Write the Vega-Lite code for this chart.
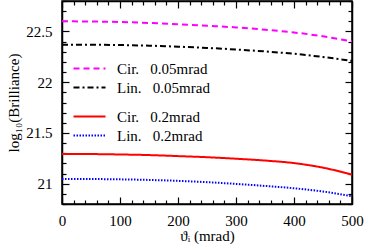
{
  "$schema": "https://vega.github.io/schema/vega-lite/v6.json",
  "width": 290,
  "height": 203,
  "autosize": {"type": "none"},
  "padding": {"left": 62, "top": 1, "right": 14, "bottom": 43},
  "config": {
    "font": "Liberation Serif",
    "view": {"stroke": "black", "strokeWidth": 1.5},
    "axis": {
      "domainColor": "black", "domainWidth": 1.5, "tickColor": "black", "tickWidth": 1.2,
      "labelFont": "Liberation Serif", "labelFontSize": 15, "labelColor": "black",
      "titleFont": "Liberation Serif", "titleFontSize": 15, "titleFontWeight": "normal", "titleColor": "black",
      "grid": false, "labelFlush": false, "labelOverlap": false
    },
    "legend": {
      "labelFont": "Liberation Serif", "labelFontSize": 15, "labelColor": "black",
      "padding": 0, "symbolStrokeWidth": 2, "symbolType": "M-4,0H4", "symbolSize": 64,
      "labelOffset": 20, "rowPadding": 3
    }
  },
  "datasets": {
    "a": [
      {"theta": 0, "val": 22.600, "s": "Cir.\u00a0\u00a0\u00a00.05mrad"},
      {"theta": 50, "val": 22.598, "s": "Cir.\u00a0\u00a0\u00a00.05mrad"},
      {"theta": 100, "val": 22.593, "s": "Cir.\u00a0\u00a0\u00a00.05mrad"},
      {"theta": 150, "val": 22.584, "s": "Cir.\u00a0\u00a0\u00a00.05mrad"},
      {"theta": 200, "val": 22.571, "s": "Cir.\u00a0\u00a0\u00a00.05mrad"},
      {"theta": 250, "val": 22.556, "s": "Cir.\u00a0\u00a0\u00a00.05mrad"},
      {"theta": 300, "val": 22.540, "s": "Cir.\u00a0\u00a0\u00a00.05mrad"},
      {"theta": 350, "val": 22.517, "s": "Cir.\u00a0\u00a0\u00a00.05mrad"},
      {"theta": 400, "val": 22.490, "s": "Cir.\u00a0\u00a0\u00a00.05mrad"},
      {"theta": 450, "val": 22.452, "s": "Cir.\u00a0\u00a0\u00a00.05mrad"},
      {"theta": 500, "val": 22.402, "s": "Cir.\u00a0\u00a0\u00a00.05mrad"},
      {"theta": 0, "val": 22.370, "s": "Lin.\u00a0\u00a0\u00a00.05mrad"},
      {"theta": 50, "val": 22.369, "s": "Lin.\u00a0\u00a0\u00a00.05mrad"},
      {"theta": 100, "val": 22.366, "s": "Lin.\u00a0\u00a0\u00a00.05mrad"},
      {"theta": 150, "val": 22.360, "s": "Lin.\u00a0\u00a0\u00a00.05mrad"},
      {"theta": 200, "val": 22.350, "s": "Lin.\u00a0\u00a0\u00a00.05mrad"},
      {"theta": 250, "val": 22.338, "s": "Lin.\u00a0\u00a0\u00a00.05mrad"},
      {"theta": 300, "val": 22.322, "s": "Lin.\u00a0\u00a0\u00a00.05mrad"},
      {"theta": 350, "val": 22.303, "s": "Lin.\u00a0\u00a0\u00a00.05mrad"},
      {"theta": 400, "val": 22.280, "s": "Lin.\u00a0\u00a0\u00a00.05mrad"},
      {"theta": 450, "val": 22.248, "s": "Lin.\u00a0\u00a0\u00a00.05mrad"},
      {"theta": 500, "val": 22.210, "s": "Lin.\u00a0\u00a0\u00a00.05mrad"}
    ],
    "b": [
      {"theta": 0, "val": 21.293, "s": "Cir.\u00a0\u00a0\u00a00.2mrad"},
      {"theta": 50, "val": 21.292, "s": "Cir.\u00a0\u00a0\u00a00.2mrad"},
      {"theta": 100, "val": 21.288, "s": "Cir.\u00a0\u00a0\u00a00.2mrad"},
      {"theta": 150, "val": 21.282, "s": "Cir.\u00a0\u00a0\u00a00.2mrad"},
      {"theta": 200, "val": 21.272, "s": "Cir.\u00a0\u00a0\u00a00.2mrad"},
      {"theta": 250, "val": 21.261, "s": "Cir.\u00a0\u00a0\u00a00.2mrad"},
      {"theta": 300, "val": 21.246, "s": "Cir.\u00a0\u00a0\u00a00.2mrad"},
      {"theta": 350, "val": 21.228, "s": "Cir.\u00a0\u00a0\u00a00.2mrad"},
      {"theta": 400, "val": 21.203, "s": "Cir.\u00a0\u00a0\u00a00.2mrad"},
      {"theta": 450, "val": 21.158, "s": "Cir.\u00a0\u00a0\u00a00.2mrad"},
      {"theta": 500, "val": 21.090, "s": "Cir.\u00a0\u00a0\u00a00.2mrad"},
      {"theta": 0, "val": 21.047, "s": "Lin.\u00a0\u00a0\u00a00.2mrad"},
      {"theta": 50, "val": 21.046, "s": "Lin.\u00a0\u00a0\u00a00.2mrad"},
      {"theta": 100, "val": 21.043, "s": "Lin.\u00a0\u00a0\u00a00.2mrad"},
      {"theta": 150, "val": 21.037, "s": "Lin.\u00a0\u00a0\u00a00.2mrad"},
      {"theta": 200, "val": 21.028, "s": "Lin.\u00a0\u00a0\u00a00.2mrad"},
      {"theta": 250, "val": 21.015, "s": "Lin.\u00a0\u00a0\u00a00.2mrad"},
      {"theta": 300, "val": 20.998, "s": "Lin.\u00a0\u00a0\u00a00.2mrad"},
      {"theta": 350, "val": 20.978, "s": "Lin.\u00a0\u00a0\u00a00.2mrad"},
      {"theta": 400, "val": 20.955, "s": "Lin.\u00a0\u00a0\u00a00.2mrad"},
      {"theta": 450, "val": 20.923, "s": "Lin.\u00a0\u00a0\u00a00.2mrad"},
      {"theta": 500, "val": 20.877, "s": "Lin.\u00a0\u00a0\u00a00.2mrad"}
    ]
  },
  "layer": [
    {
      "data": {"name": "a"},
      "mark": {"type": "line", "strokeWidth": 2, "clip": true, "interpolate": "monotone"},
      "encoding": {
        "x": {
          "field": "theta", "type": "quantitative",
          "scale": {"domain": [0, 500], "nice": false, "zero": false},
          "axis": {
            "orient": "bottom",
            "values": [0,20,40,60,80,100,120,140,160,180,200,220,240,260,280,300,320,340,360,380,400,420,440,460,480,500],
            "labelExpr": "datum.value % 100 == 0 ? datum.label : ''",
            "tickSize": {"condition": {"test": "datum.value % 100 == 0", "value": -7}, "value": -4},
            "labelPadding": 16,
            "title": "ϑᵢ (mrad)",
            "titlePadding": -3
          }
        },
        "y": {
          "field": "val", "type": "quantitative",
          "scale": {"domain": [20.8, 22.8], "nice": false, "zero": false},
          "axis": {
            "orient": "left",
            "values": [20.8,20.9,21,21.1,21.2,21.3,21.4,21.5,21.6,21.7,21.8,21.9,22,22.1,22.2,22.3,22.4,22.5,22.6,22.7,22.8],
            "labelExpr": "abs(datum.value*2 - round(datum.value*2)) < 0.001 ? toString(round(datum.value*10)/10) : ''",
            "tickSize": {"condition": {"test": "abs(datum.value*2 - round(datum.value*2)) < 0.001", "value": -7}, "value": -4},
            "labelPadding": 17,
            "title": "log₁₀(Brilliance)",
            "titlePadding": 4
          }
        },
        "color": {
          "field": "s", "type": "nominal",
          "scale": {"domain": ["Cir.\u00a0\u00a0\u00a00.05mrad", "Lin.\u00a0\u00a0\u00a00.05mrad"], "range": ["#ff00ff", "#000000"]},
          "legend": {"orient": "none", "legendX": 20, "legendY": 60, "title": null}
        },
        "strokeDash": {
          "field": "s", "type": "nominal",
          "scale": {"domain": ["Cir.\u00a0\u00a0\u00a00.05mrad", "Lin.\u00a0\u00a0\u00a00.05mrad"], "range": [[6, 4], [6, 3, 2, 3]]},
          "legend": {"orient": "none", "legendX": 20, "legendY": 60, "title": null}
        }
      }
    },
    {
      "data": {"name": "b"},
      "mark": {"type": "line", "strokeWidth": 2, "clip": true, "interpolate": "monotone"},
      "encoding": {
        "x": {
          "field": "theta", "type": "quantitative",
          "axis": {
            "orient": "top",
            "values": [0,20,40,60,80,100,120,140,160,180,200,220,240,260,280,300,320,340,360,380,400,420,440,460,480,500],
            "labels": false,
            "tickSize": {"condition": {"test": "datum.value % 100 == 0", "value": -7}, "value": -4},
            "title": null
          }
        },
        "y": {
          "field": "val", "type": "quantitative",
          "axis": {
            "orient": "right",
            "values": [20.8,20.9,21,21.1,21.2,21.3,21.4,21.5,21.6,21.7,21.8,21.9,22,22.1,22.2,22.3,22.4,22.5,22.6,22.7,22.8],
            "labels": false,
            "tickSize": {"condition": {"test": "abs(datum.value*2 - round(datum.value*2)) < 0.001", "value": -7}, "value": -4},
            "title": null
          }
        },
        "color": {
          "field": "s", "type": "nominal",
          "scale": {"domain": ["Cir.\u00a0\u00a0\u00a00.2mrad", "Lin.\u00a0\u00a0\u00a00.2mrad"], "range": ["#ff0000", "#0000ff"]},
          "legend": {"orient": "none", "legendX": 20, "legendY": 108, "title": null}
        },
        "strokeDash": {
          "field": "s", "type": "nominal",
          "scale": {"domain": ["Cir.\u00a0\u00a0\u00a00.2mrad", "Lin.\u00a0\u00a0\u00a00.2mrad"], "range": [[1, 0], [1.5, 1.5]]},
          "legend": {"orient": "none", "legendX": 20, "legendY": 108, "title": null}
        }
      }
    }
  ],
  "resolve": {
    "scale": {"color": "independent", "strokeDash": "independent"},
    "axis": {"x": "independent", "y": "independent"}
  }
}
